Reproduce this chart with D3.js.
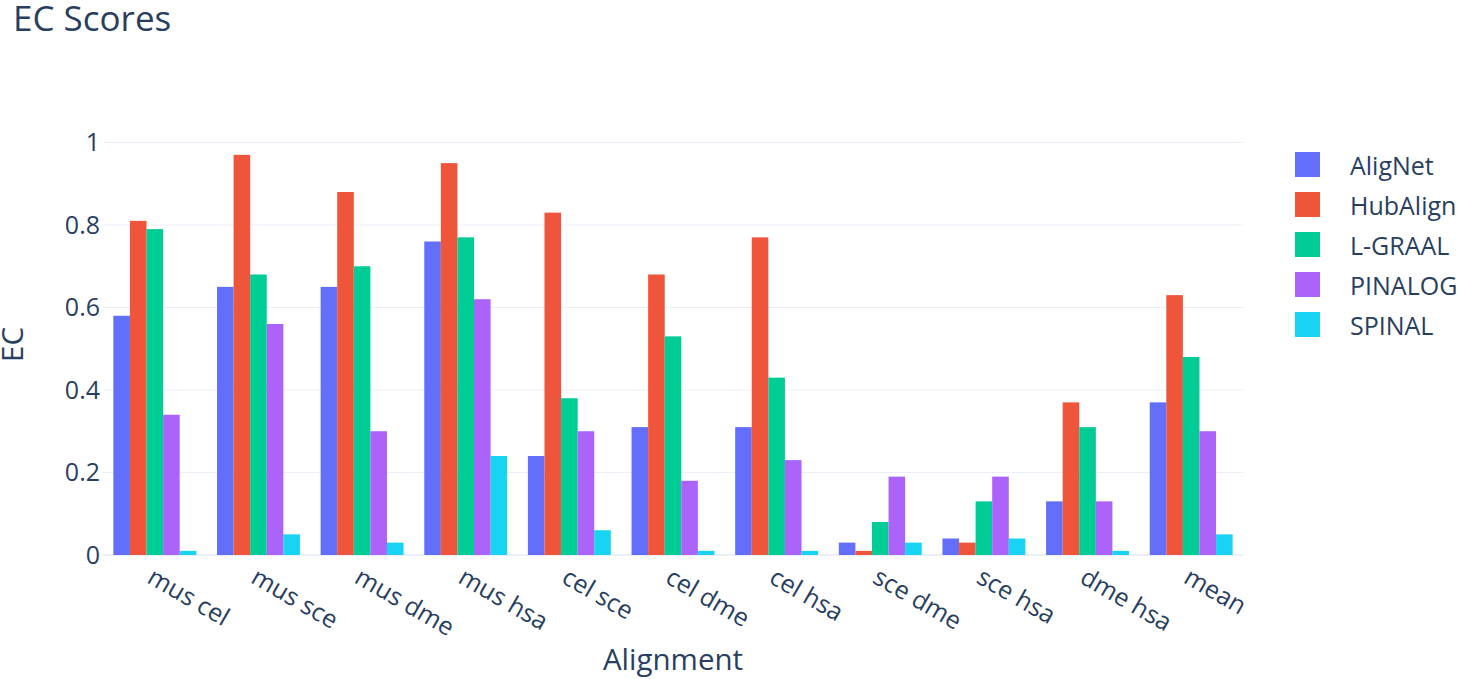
<!DOCTYPE html>
<html><head><meta charset="utf-8">
<script src="https://cdn.jsdelivr.net/npm/d3@7"></script>
<style>body{margin:0;background:#fff;font-family:"Open Sans",sans-serif;}</style>
</head><body><svg id="c" width="1458" height="679"></svg>
<script>
const categories = ["mus cel","mus sce","mus dme","mus hsa","cel sce","cel dme","cel hsa","sce dme","sce hsa","dme hsa","mean"];
const seriesNames = ["AligNet","HubAlign","L-GRAAL","PINALOG","SPINAL"];
const AligNet  = [0.58,0.65,0.65,0.76,0.24,0.31,0.31,0.03,0.04,0.13,0.37];
const HubAlign = [0.81,0.97,0.88,0.95,0.83,0.68,0.77,0.01,0.03,0.37,0.63];
const LGRAAL   = [0.79,0.68,0.70,0.77,0.38,0.53,0.43,0.08,0.13,0.31,0.48];
const PINALOG  = [0.34,0.56,0.30,0.62,0.30,0.18,0.23,0.19,0.19,0.13,0.30];
const SPINAL   = [0.01,0.05,0.03,0.24,0.06,0.01,0.01,0.03,0.04,0.01,0.05];
const yTicks = [0,0.2,0.4,0.6,0.8,1];
const yTickLabels = ["0","0.2","0.4","0.6","0.8","1"];
const colors = ["#636efa","#EF553B","#00cc96","#ab63fa","#19d3f3"];
const seriesValues = [AligNet,HubAlign,LGRAAL,PINALOG,SPINAL];

const svg = d3.select("#c");
const L=103, R=1243, B=555, yMax=1.021;
const y = d3.scaleLinear().domain([0,yMax]).range([B, B - yMax*412.5]);
const T = y(yMax);
const x0 = d3.scaleBand().domain(categories).range([L,R]).paddingInner(0.2).paddingOuter(0.1);
const x1 = d3.scaleBand().domain(seriesNames).range([0,x0.bandwidth()]);
const txt = "#2a3f5f";

// grid
svg.append("g").selectAll("line").data(yTicks).join("line")
  .attr("x1",L).attr("x2",R).attr("y1",d=>y(d)).attr("y2",d=>y(d))
  .attr("stroke","#EBF0F8").attr("stroke-width",d=>d===0?2:1);

// bars
seriesNames.forEach((s,si)=>{
  svg.append("g").selectAll("rect").data(categories).join("rect")
    .attr("x",c=>x0(c)+x1(s)).attr("width",x1.bandwidth())
    .attr("y",(c,i)=>y(seriesValues[si][i])).attr("height",(c,i)=>B-y(seriesValues[si][i]))
    .attr("fill",colors[si]);
});

// y ticks
const yAxis = d3.axisLeft(y).tickValues(yTicks).tickFormat((d,i)=>yTickLabels[i]).tickSize(0).tickPadding(0);
const ya = svg.append("g").attr("transform",`translate(${L-3},0)`).call(yAxis);
ya.select(".domain").remove();
ya.selectAll("text").attr("fill",txt).style("font-family","Open Sans").style("font-size","25px");

// x ticks
const xAxis = d3.axisBottom(x0).tickSize(0).tickPadding(0);
const xa = svg.append("g").attr("transform",`translate(0,${B})`).call(xAxis);
xa.select(".domain").remove();
xa.selectAll("text").attr("fill",txt).style("font-family","Open Sans").style("font-size","25px")
  .attr("text-anchor","start").attr("dy",null).attr("y",null)
  .attr("transform","translate(-9,27) rotate(30)");

// title
svg.append("text").attr("x",13).attr("y",31).text("EC Scores").attr("fill",txt)
  .style("font-size","35px");
// axis titles
svg.append("text").attr("x",(L+R)/2).attr("y",670).attr("text-anchor","middle").text("Alignment")
  .attr("fill",txt).style("font-size","29.5px");
svg.append("text").attr("transform",`translate(23,${(T+B)/2}) rotate(-90)`).attr("text-anchor","middle").text("EC")
  .attr("fill",txt).style("font-size","29.5px");

// legend
const lg = svg.append("g").selectAll("g").data(seriesNames).join("g")
  .attr("transform",(d,i)=>`translate(1295,${152+i*40})`);
lg.append("rect").attr("width",25).attr("height",25).attr("fill",(d,i)=>colors[i]);
lg.append("text").attr("x",55).attr("y",12.5).attr("dominant-baseline","central").text(d=>d)
  .attr("fill",txt).style("font-size","25px");
</script></body></html>
